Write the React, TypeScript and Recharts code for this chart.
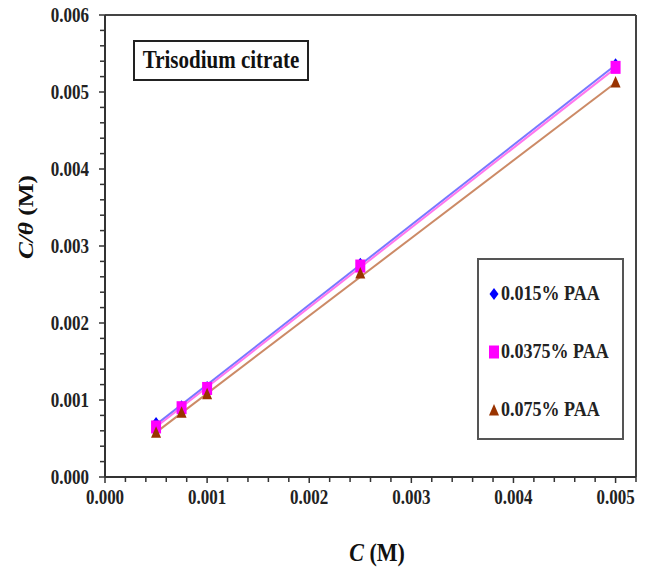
import React from "react";
import {
  ComposedChart,
  XAxis,
  YAxis,
  Line,
  Scatter,
  ReferenceLine,
  Legend,
} from "recharts";

// ---- data ----
const concentrations = [0.0005, 0.00075, 0.001, 0.0025, 0.005];
const paa015 = [0.0007, 0.00092, 0.00117, 0.00277, 0.00536];
const paa0375 = [0.00065, 0.0009, 0.00115, 0.00274, 0.00532];
const paa075 = [0.00058, 0.00084, 0.00108, 0.00265, 0.00513];

const fitX = [0.0005, 0.005];
const fit015 = [0.00068, 0.00535];
const fit0375 = [0.00065, 0.00531];
const fit075 = [0.00058, 0.00512];

const seriesNames = ["0.015% PAA", "0.0375% PAA", "0.075% PAA"];
const markerColors = ["#0000ff", "#ff00ff", "#993300"];
const lineColors = ["#7777ff", "#ff77ee", "#cc8a66"];

const xMajorTicks = [0, 0.001, 0.002, 0.003, 0.004, 0.005];
const yMajorTicks = [0, 0.001, 0.002, 0.003, 0.004, 0.005, 0.006];
const xTickLabels = ["0.000", "0.001", "0.002", "0.003", "0.004", "0.005"];
const yTickLabels = ["0.000", "0.001", "0.002", "0.003", "0.004", "0.005", "0.006"];

const X_MAX = 0.0052;
const Y_MAX = 0.006;

const minorStep = 0.0002;
const xTicks: number[] = [];
for (let i = 0; i * minorStep <= X_MAX + 1e-9; i++) xTicks.push(+(i * minorStep).toFixed(4));
const yTicks: number[] = [];
for (let i = 0; i * minorStep <= Y_MAX + 1e-9; i++) yTicks.push(+(i * minorStep).toFixed(4));

const toPoints = (xs: number[], ys: number[]) => xs.map((x, i) => ({ x, y: ys[i] }));
const scatterData = [paa015, paa0375, paa075].map((s) => toPoints(concentrations, s));
const fitData = [fit015, fit0375, fit075].map((s) => toPoints(fitX, s));

const FONT = "'Liberation Serif', 'Times New Roman', serif";

const majorIndex = (v: number, majors: number[]) =>
  majors.findIndex((m) => Math.abs(m - v) < 1e-9);

const XTick = (props: any) => {
  const { x, y, payload } = props;
  const idx = majorIndex(payload.value, xMajorTicks);
  const len = idx >= 0 ? 6 : 5;
  return (
    <g>
      <line x1={x} y1={y} x2={x} y2={y + len} stroke="#333" strokeWidth={1.5} />
      {idx >= 0 && (
        <text
          transform={`translate(${x}, ${y + 27}) scale(1, 1.2)`}
          textAnchor="middle"
          fontFamily={FONT}
          fontWeight="bold"
          fontSize={17}
          fill="#222"
        >
          {xTickLabels[idx]}
        </text>
      )}
    </g>
  );
};

const YTick = (props: any) => {
  const { x, y, payload } = props;
  const idx = majorIndex(payload.value, yMajorTicks);
  const len = idx >= 0 ? 6 : 5;
  return (
    <g>
      <line x1={x} y1={y} x2={x - len} y2={y} stroke="#333" strokeWidth={1.5} />
      {idx >= 0 && (
        <text
          transform={`translate(${x - 16}, ${y + 7}) scale(1, 1.2)`}
          textAnchor="end"
          fontFamily={FONT}
          fontWeight="bold"
          fontSize={17}
          fill="#222"
        >
          {yTickLabels[idx]}
        </text>
      )}
    </g>
  );
};

const Diamond = (props: any) => {
  const { cx, cy, fill } = props;
  if (cx == null || cy == null) return null;
  return (
    <polygon
      points={`${cx},${cy - 6} ${cx + 4.5},${cy} ${cx},${cy + 6} ${cx - 4.5},${cy}`}
      fill={fill}
    />
  );
};
const Square = (props: any) => {
  const { cx, cy, fill } = props;
  if (cx == null || cy == null) return null;
  return <rect x={cx - 5} y={cy - 6.5} width={10} height={13} fill={fill} />;
};
const Triangle = (props: any) => {
  const { cx, cy, fill } = props;
  if (cx == null || cy == null) return null;
  return (
    <polygon
      points={`${cx},${cy - 6} ${cx + 5},${cy + 5.5} ${cx - 5},${cy + 5.5}`}
      fill={fill}
    />
  );
};
const shapes = [Diamond, Square, Triangle];

const LegendMarker = ({ i }: { i: number }) => {
  const S = shapes[i];
  return (
    <svg width={12} height={14} style={{ marginRight: 1 }}>
      <S cx={6} cy={7} fill={markerColors[i]} />
    </svg>
  );
};

const renderLegend = () => (
  <div
    style={{
      width: 147,
      height: 182,
      border: "2px solid #555",
      boxSizing: "border-box",
      background: "#fff",
      position: "relative",
    }}
  >
    {seriesNames.map((name, i) => (
      <div
        key={name}
        style={{
          position: "absolute",
          left: 9,
          top: 23 + i * 58,
          display: "flex",
          alignItems: "center",
          fontFamily: FONT,
          fontWeight: "bold",
          fontSize: 18,
          color: "#222",
          whiteSpace: "nowrap",
        }}
      >
        <LegendMarker i={i} />
        <span style={{ display: "inline-block", transform: "scale(1, 1.2)" }}>{name}</span>
      </div>
    ))}
  </div>
);

export default function App() {
  return (
    <div style={{ position: "absolute", left: 0, top: 0, width: 649, height: 573, background: "#fff" }}>
      <ComposedChart
        width={649}
        height={573}
        margin={{ top: 15, right: 13, bottom: 95, left: 104 }}
      >
        <XAxis
          type="number"
          dataKey="x"
          domain={[0, X_MAX]}
          ticks={xTicks}
          interval={0}
          height={1}
          tickSize={0}
          tickMargin={0}
          tick={<XTick />}
          axisLine={{ stroke: "#333", strokeWidth: 2 }}
          tickLine={false}
          allowDataOverflow
        />
        <YAxis
          type="number"
          dataKey="y"
          domain={[0, Y_MAX]}
          ticks={yTicks}
          interval={0}
          width={1}
          tickSize={0}
          tickMargin={0}
          tick={<YTick />}
          axisLine={{ stroke: "#333", strokeWidth: 2 }}
          tickLine={false}
          allowDataOverflow
        />
        <ReferenceLine y={Y_MAX} stroke="#444" strokeWidth={2} />
        <ReferenceLine x={X_MAX} stroke="#444" strokeWidth={2} />
        {fitData.map((d, i) => (
          <Line
            key={`fit-${i}`}
            data={d}
            dataKey="y"
            type="linear"
            stroke={lineColors[i]}
            strokeWidth={2}
            dot={false}
            activeDot={false}
            legendType="none"
            isAnimationActive={false}
          />
        ))}
        {scatterData.map((d, i) => (
          <Scatter
            key={`sc-${i}`}
            name={seriesNames[i]}
            data={d}
            fill={markerColors[i]}
            shape={shapes[i]}
            isAnimationActive={false}
          />
        ))}
        <Legend
          layout="horizontal"
          verticalAlign="middle"
          align="center"
          content={renderLegend}
          wrapperStyle={{ left: 477, top: 258, width: 147, height: 182 }}
        />
      </ComposedChart>

      {/* title box */}
      <div
        style={{
          position: "absolute",
          left: 133,
          top: 40,
          width: 176,
          height: 41,
          border: "2px solid #222",
          boxSizing: "border-box",
          display: "flex",
          alignItems: "center",
          justifyContent: "center",
          fontFamily: FONT,
          fontWeight: "bold",
          fontSize: 21,
          color: "#111",
          background: "#fff",
        }}
      >
        <span style={{ display: "inline-block", transform: "scale(1, 1.2)" }}>Trisodium citrate</span>
      </div>

      {/* axis titles */}
      <svg
        width={649}
        height={573}
        style={{ position: "absolute", left: 0, top: 0, pointerEvents: "none" }}
      >
        <text
          transform="translate(377, 561) scale(1, 1.15)"
          textAnchor="middle"
          fontFamily={FONT}
          fontWeight="bold"
          fontSize={22}
          fill="#111"
        >
          <tspan fontStyle="italic">C</tspan>
          <tspan> (M)</tspan>
        </text>
        <text
          transform="translate(33, 217) rotate(-90) scale(1.15, 1)"
          textAnchor="middle"
          fontFamily={FONT}
          fontWeight="bold"
          fontSize={22}
          fill="#111"
        >
          <tspan fontStyle="italic">C/θ</tspan>
          <tspan> (M)</tspan>
        </text>
      </svg>
    </div>
  );
}
